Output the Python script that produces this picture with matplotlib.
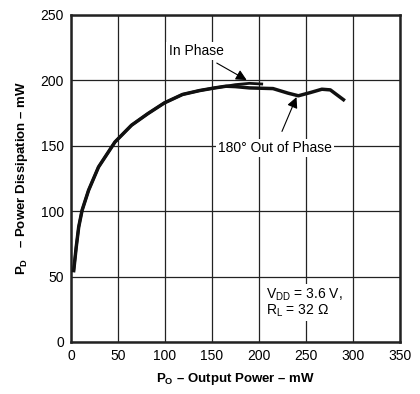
import matplotlib.pyplot as plt

plt.rcParams['font.family'] = ['Liberation Sans', 'DejaVu Sans']
plt.rcParams['mathtext.fontset'] = 'custom'
plt.rcParams['mathtext.rm'] = 'Liberation Sans'
plt.rcParams['mathtext.bf'] = 'Liberation Sans:bold'

shared_x = [2.9, 5.5, 8.2, 11.8, 18.7, 29.3, 46.8, 64.4, 81.9, 99.5, 118.7, 137, 153, 165]
shared_y = [54.5, 72, 87.7, 100.5, 115.8, 133.6, 152.7, 165.5, 174.4, 182.6, 189, 192, 194, 195.3]

in_phase_x = shared_x + [175, 190, 203]
in_phase_y = shared_y + [196.5, 197.5, 197]

out_phase_x = shared_x + [175, 190, 215, 231, 242, 255, 267, 276, 290]
out_phase_y = shared_y + [195, 194, 193.5, 190, 188, 190.5, 193, 192.5, 185]

xticks = [0, 50, 100, 150, 200, 250, 300, 350]
yticks = [0, 50, 100, 150, 200, 250]

fig = plt.figure(figsize=(4.2, 3.94), dpi=100)
ax = fig.add_axes([0.169, 0.132, 0.783, 0.831])

ax.plot(out_phase_x, out_phase_y, color='#111111', lw=2.5, solid_joinstyle='round', zorder=3)
ax.plot(in_phase_x, in_phase_y, color='#111111', lw=2.0, solid_joinstyle='round', zorder=3)

ax.set_xlim(0, 350)
ax.set_ylim(0, 250)
ax.set_xticks(xticks)
ax.set_yticks(yticks)
ax.tick_params(length=0, labelsize=10, pad=5)
ax.grid(True, color='#222222', lw=0.9)
ax.set_axisbelow(True)
for s in ax.spines.values():
    s.set_linewidth(1.8)
    s.set_color('#222222')

ax.set_xlabel(r'$\mathbf{P}_{\mathbf{O}}$ – Output Power – mW', fontsize=9.5,
              fontweight='bold', labelpad=6)
ax.set_ylabel(r'$\mathbf{P}_{\mathbf{D}}$   – Power Dissipation – mW', fontsize=9.5,
              fontweight='bold', labelpad=8)

box = dict(facecolor='white', edgecolor='none', pad=1.5)
ax.annotate('In Phase', xy=(187, 200), xytext=(133, 222), fontsize=10,
            ha='center', va='center', bbox=box,
            arrowprops=dict(arrowstyle='-|>', color='black', lw=0.8,
                            mutation_scale=16, shrinkA=4, shrinkB=0))
ax.annotate('180° Out of Phase', xy=(240, 187), xytext=(217, 148), fontsize=10,
            ha='center', va='center', bbox=box,
            arrowprops=dict(arrowstyle='-|>', color='black', lw=0.8,
                            mutation_scale=16, shrinkA=6, shrinkB=0))

ax.text(208, 30, '$\\mathrm{V_{DD}}$ = 3.6 V,\n$\\mathrm{R_L}$ = 32 Ω', fontsize=10,
        ha='left', va='center', linespacing=0.9,
        bbox=dict(facecolor='white', edgecolor='none', pad=2))

fig.savefig('out.png', dpi=100)
